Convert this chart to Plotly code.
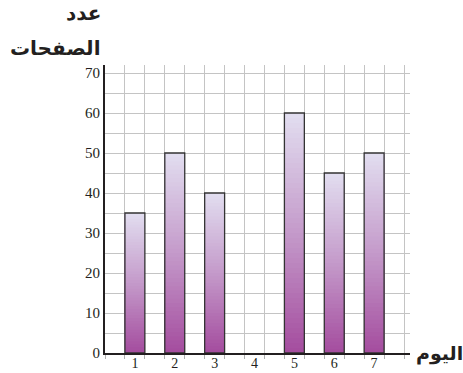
import plotly.graph_objects as go

days = [1, 2, 3, 4, 5, 6, 7]
pages = [35, 50, 40, 0, 60, 45, 50]
x_tick_labels = ["1", "2", "3", "4", "5", "6", "7"]
y_title_line1 = "عدد"
y_title_line2 = "الصفحات"
x_title = "اليوم"

N = 48
stops = [(0.0, (164, 76, 158)), (0.5, (196, 154, 202)), (1.0, (226, 222, 240))]


def color_at(t):
    for (t0, c0), (t1, c1) in zip(stops[:-1], stops[1:]):
        if t <= t1:
            f = (t - t0) / (t1 - t0)
            return "rgb(%d,%d,%d)" % tuple(round(a + (b - a) * f) for a, b in zip(c0, c1))
    return "rgb(%d,%d,%d)" % stops[-1][1]


SERIF = "Liberation Serif, Times New Roman, serif"

fig = go.Figure()
for i in range(N):
    frac = i / N
    fig.add_trace(go.Bar(
        x=days,
        y=[v * (1 - frac) for v in pages],
        base=[v * frac for v in pages],
        width=0.5,
        marker=dict(color=color_at(frac + 0.5 / N), line=dict(width=0)),
        hoverinfo="skip",
        showlegend=False,
    ))
fig.add_trace(go.Bar(
    x=days, y=[v if v else None for v in pages], width=0.5,
    marker=dict(color="rgba(0,0,0,0)", line=dict(color="#333333", width=1.3)),
    showlegend=False,
))

fig.update_layout(
    barmode="overlay",
    width=463, height=373,
    margin=dict(l=105, r=53, t=65, b=20),
    paper_bgcolor="white", plot_bgcolor="white",
    font=dict(family=SERIF, size=15, color="#231f20"),
    xaxis=dict(
        range=[0.25, 7.9],
        tickvals=days, ticktext=x_tick_labels,
        showgrid=False, ticks="", zeroline=False, automargin=False,
        ticklabelstandoff=-4,
        showline=True, linecolor="#231f20", linewidth=2,
        tickfont=dict(family=SERIF, size=14),
        minor=dict(tick0=0.75, dtick=0.5, showgrid=True, gridcolor="#c4c4c4",
                   gridwidth=1.3, ticks="outside", ticklen=4, tickcolor="#b0b0b0",
                   tickwidth=1.3),
    ),
    yaxis=dict(
        range=[0, 72],
        dtick=10, tick0=0,
        showgrid=True, gridcolor="#c4c4c4", gridwidth=1.3,
        ticks="", zeroline=False, automargin=False,
        showline=True, linecolor="#231f20", linewidth=2,
        tickfont=dict(family=SERIF, size=15),
        minor=dict(dtick=5, showgrid=True, gridcolor="#c4c4c4", gridwidth=1.3),
    ),
    annotations=[
        dict(text="<b>%s</b>" % y_title_line1, xref="paper", yref="paper",
             x=-0.008, y=1.18, xanchor="right", yanchor="middle", showarrow=False,
             font=dict(family="DejaVu Sans", size=20, color="#231f20")),
        dict(text="<b>%s</b>" % y_title_line2, xref="paper", yref="paper",
             x=-0.008, y=1.06, xanchor="right", yanchor="middle", showarrow=False,
             font=dict(family="DejaVu Sans", size=20, color="#231f20")),
        dict(text="<b>%s</b>" % x_title, xref="paper", yref="paper",
             x=1.012, y=0.0, xanchor="left", yanchor="middle", showarrow=False,
             font=dict(family="DejaVu Sans", size=19, color="#231f20")),
    ],
)

fig.write_html("out.html")
